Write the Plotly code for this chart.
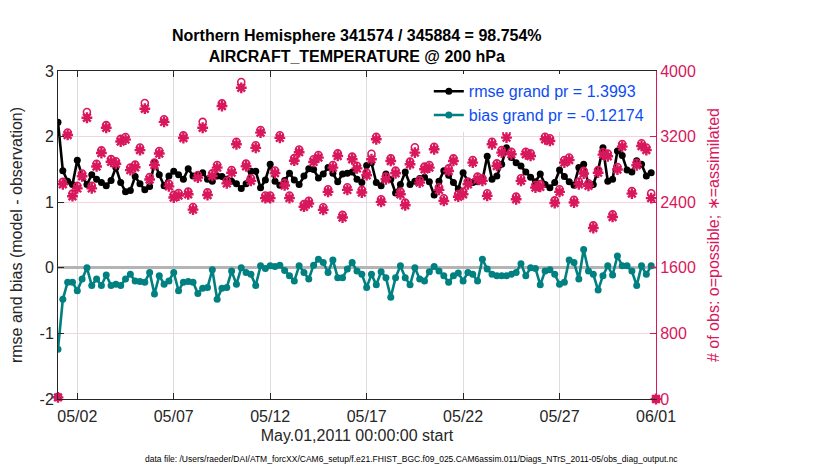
import pandas as pd
import plotly.graph_objects as go

# ---------------- data ----------------
times = pd.date_range("2011-05-01 00:00", periods=125, freq="6h")

rmse = [2.22, 1.48, 1.32, 1.27, 1.64, 1.40, 1.27, 1.42, 1.35, 1.30,
        1.25, 1.33, 1.53, 1.30, 1.16, 1.18, 1.39, 1.28, 1.19, 1.24,
        1.61, 1.42, 1.25, 1.40, 1.47, 1.42, 1.35, 1.51, 1.40, 1.41,
        1.45, 1.35, 1.32, 1.40, 1.39, 1.35, 1.32, 1.28, 1.21, 1.28,
        1.47, 1.47, 1.22, 1.34, 1.58, 1.32, 1.26, 1.33, 1.44, 1.34,
        1.27, 1.40, 1.51, 1.50, 1.37, 1.43, 1.53, 1.44, 1.31, 1.43,
        1.44, 1.46, 1.35, 1.30, 1.56, 1.60, 1.30, 1.25, 1.43, 1.35,
        1.14, 1.27, 1.46, 1.27, 1.32, 1.36, 1.38, 1.31, 1.11, 1.32,
        1.48, 1.41, 1.30, 1.20, 1.45, 1.32, 1.30, 1.31, 1.33, 1.70,
        1.35, 1.40, 1.58, 1.83, 1.68, 1.60, 1.55, 1.46, 1.38, 1.31,
        1.43, 1.27, 1.22, 1.30, 1.49, 1.39, 1.31, 1.26, 1.53, 1.58,
        1.27, 1.27, 1.49, 1.83, 1.32, 1.35, 1.78, 1.71, 1.49, 1.46,
        1.63, 1.58, 1.40, 1.45, None]

bias = [-1.24, -0.48, -0.22, -0.22, -0.35, -0.17, 0.00, -0.27, -0.17, -0.27,
        -0.11, -0.27, -0.25, -0.27, -0.17, -0.10, -0.20, -0.21, -0.22, -0.07,
        -0.40, -0.12, -0.25, -0.20, -0.07, -0.35, -0.22, -0.21, -0.22, -0.39,
        -0.31, -0.30, -0.03, -0.48, -0.31, -0.30, -0.05, -0.25, 0.00, -0.07,
        -0.10, -0.27, 0.03, -0.01, 0.03, 0.02, 0.04, -0.04, -0.12, -0.20,
        0.03, -0.07, -0.17, 0.04, 0.13, 0.08, -0.07, 0.12, -0.15, -0.15,
        -0.02, 0.08, -0.05, -0.10, -0.30, -0.10, -0.26, -0.06, -0.15, -0.45,
        -0.15, 0.03, -0.15, -0.26, 0.00, -0.17, -0.20, -0.06, 0.02, -0.05,
        -0.12, -0.22, -0.12, -0.08, -0.20, -0.07, -0.10, -0.20, 0.13, -0.02,
        -0.10, -0.12, -0.12, -0.12, -0.10, -0.07, 0.06, -0.12, 0.00, -0.01,
        -0.26, -0.05, -0.03, -0.10, -0.25, -0.22, 0.12, 0.08, -0.17, 0.28,
        -0.05, -0.10, -0.34, -0.12, 0.03, -0.11, 0.18, 0.03, 0.03, -0.05,
        -0.27, 0.03, -0.10, 0.03, None]

obs_possible = [25, 2650, 3250, 2505, 2600, 2748, 3500, 2600, 2868, 3032,
                3340, 2925, 2900, 3172, 3195, 2822, 2858, 3067, 3610, 2708,
                2884, 3025, 3412, 2625, 2489, 2513, 3215, 2529, 2342, 2732,
                3380, 2520, 2752, 2854, 3605, 2661, 2792, 3138, 3865, 2870,
                2692, 3094, 3280, 2482, 2482, 2787, 3216, 2636, 2482, 2938,
                3042, 2377, 2417, 2923, 2976, 2338, 2558, 2854, 2996, 2245,
                2582, 2956, 2844, 2550, 2761, 2990, 3199, 2436, 2712, 2935,
                2785, 2529, 2395, 2895, 3070, 2671, 2834, 2854, 3077, 2582,
                2448, 2813, 2935, 2499, 2529, 2651, 2915, 2712, 2692, 2509,
                3138, 2874, 3037, 3250, 3016, 2468, 2692, 3016, 2996, 2610,
                2620, 3199, 3179, 2422, 2558, 2915, 2945, 2428, 2651, 2782,
                2632, 2117, 2792, 3012, 2992, 2252, 2830, 3110, 3430, 2537,
                2882, 3118, 3067, 2510, 0]

obs_assimilated = [20, 2619, 3220, 2473, 2568, 2716, 3430, 2568, 2836, 3000,
                   3308, 2893, 2869, 3140, 3163, 2791, 2826, 3035, 3540, 2676,
                   2852, 2993, 3379, 2593, 2457, 2481, 3183, 2497, 2310, 2700,
                   3308, 2488, 2720, 2822, 3573, 2629, 2760, 3106, 3795, 2838,
                   2660, 3062, 3248, 2450, 2450, 2755, 3184, 2604, 2450, 2906,
                   3010, 2345, 2385, 2891, 2944, 2306, 2526, 2822, 2964, 2213,
                   2550, 2924, 2812, 2518, 2729, 2924, 3167, 2404, 2680, 2903,
                   2753, 2497, 2363, 2863, 3005, 2639, 2802, 2822, 3045, 2550,
                   2416, 2781, 2903, 2467, 2497, 2619, 2883, 2680, 2660, 2477,
                   3106, 2842, 3005, 3187, 2984, 2436, 2660, 2984, 2964, 2578,
                   2588, 3167, 3147, 2390, 2526, 2883, 2913, 2396, 2619, 2750,
                   2600, 2085, 2760, 2980, 2960, 2220, 2798, 3078, 3390, 2505,
                   2850, 3086, 3035, 2450, 0]

x_tick_vals = ["2011-05-02", "2011-05-07", "2011-05-12", "2011-05-17",
               "2011-05-22", "2011-05-27", "2011-06-01"]
x_tick_text = ["05/02", "05/07", "05/12", "05/17", "05/22", "05/27", "06/01"]
y_tick_vals = [-2, -1, 0, 1, 2, 3]
y_tick_text = ["-2", "-1", "0", "1", "2", "3"]
y2_tick_vals = [0, 800, 1600, 2400, 3200, 4000]

rmse_label = "rmse grand pr = 1.3993"
bias_label = "bias grand pr = -0.12174"

# ---------------- styling ----------------
PINK = "#d8175c"
TEAL = "#008080"
FONT = "Liberation Sans, Arial, Helvetica, sans-serif"
NARROW = "Liberation Sans Narrow, Liberation Sans, Arial, sans-serif"

fig = go.Figure()

fig.add_trace(go.Scatter(
    x=times, y=rmse, name=rmse_label, mode="lines+markers",
    line=dict(color="black", width=2.6),
    marker=dict(color="black", size=7, symbol="circle"),
    yaxis="y"))
fig.add_trace(go.Scatter(
    x=times, y=bias, name=bias_label, mode="lines+markers",
    line=dict(color=TEAL, width=2.6),
    marker=dict(color=TEAL, size=7, symbol="circle"),
    yaxis="y"))

fig.add_trace(go.Scatter(
    x=times, y=obs_possible, name="possible", mode="markers",
    marker=dict(symbol="circle-open", size=7, color=PINK,
                line=dict(color=PINK, width=1.6)),
    showlegend=False, yaxis="y2", cliponaxis=False))
fig.add_trace(go.Scatter(
    x=times, y=obs_assimilated, name="assimilated", mode="markers",
    marker=dict(symbol="asterisk-open", size=9, color=PINK,
                line=dict(color=PINK, width=2.4)),
    showlegend=False, yaxis="y2", cliponaxis=False))

# the page body adds an 8px offset, so margins are reduced accordingly
fig.update_layout(
    width=830, height=470,
    margin=dict(l=50, r=182, t=63, b=79, pad=0, autoexpand=False),
    paper_bgcolor="white", plot_bgcolor="white",
    font=dict(family=FONT, size=16, color="#262626"),
    showlegend=True,
    legend=dict(x=0.988, xanchor="right", y=0.99, yanchor="top",
                bgcolor="rgba(255,255,255,1)", borderwidth=0,
                font=dict(family=FONT, size=16, color="#0d4cf2"),
                itemwidth=30, tracegroupgap=0),
    xaxis=dict(
        type="date", automargin=False,
        range=["2011-05-01 00:00", "2011-06-01 00:00"],
        tickvals=x_tick_vals, ticktext=x_tick_text,
        ticks="inside", ticklen=6, tickcolor="#262626",
        ticklabelstandoff=3,
        showline=True, linecolor="#262626", linewidth=1,
        mirror="ticks",
        showgrid=True, gridcolor="#dcdcdc", gridwidth=1,
        tickfont=dict(family=FONT, size=16, color="#262626"),
        title=dict(text="May.01,2011 00:00:00 start",
                   font=dict(family=FONT, size=16, color="#262626"),
                   standoff=5),
        zeroline=False,
    ),
    yaxis=dict(
        range=[-2, 3], automargin=False,
        tickvals=y_tick_vals, ticktext=y_tick_text,
        ticks="inside", ticklen=6, tickcolor="#262626",
        showline=True, linecolor="#262626", linewidth=1,
        showgrid=False,
        zeroline=True, zerolinecolor="#b4b4b4", zerolinewidth=3,
        tickfont=dict(family=FONT, size=16, color="#262626"),
        title=dict(text="rmse and bias (model - observation)",
                   font=dict(family=FONT, size=16, color="#262626"),
                   standoff=12),
    ),
    yaxis2=dict(
        overlaying="y", side="right", automargin=False,
        range=[0, 4000],
        tickvals=y2_tick_vals,
        ticks="inside", ticklen=6, tickcolor=PINK,
        showline=True, linecolor=PINK, linewidth=1,
        showgrid=True, gridcolor="#f3d3df", gridwidth=1,
        zeroline=False,
        tickfont=dict(family=FONT, size=16, color=PINK),
        title=dict(text="# of obs: o=possible; \u2217=assimilated",
                   font=dict(family=FONT, size=16, color=PINK),
                   standoff=12),
    ),
    annotations=[
        dict(text="<b>Northern Hemisphere 341574 / 345884 = 98.754%<br>"
                  "AIRCRAFT_TEMPERATURE @ 200 hPa</b>",
             xref="paper", yref="paper", x=0.5, y=1.012,
             xanchor="center", yanchor="bottom", showarrow=False,
             font=dict(family=NARROW, size=16, color="black"),
             align="center"),
        dict(text="data file: /Users/raeder/DAI/ATM_forcXX/CAM6_setup/"
                  "f.e21.FHIST_BGC.f09_025.CAM6assim.011/"
                  "Diags_NTrS_2011-05/obs_diag_output.nc",
             xref="paper", yref="paper", x=(411 - 58) / 598, y=-60 / 328,
             xanchor="center", yanchor="middle", showarrow=False,
             font=dict(family=FONT, size=8.5, color="black")),
    ],
)

fig.write_html("out.html")
